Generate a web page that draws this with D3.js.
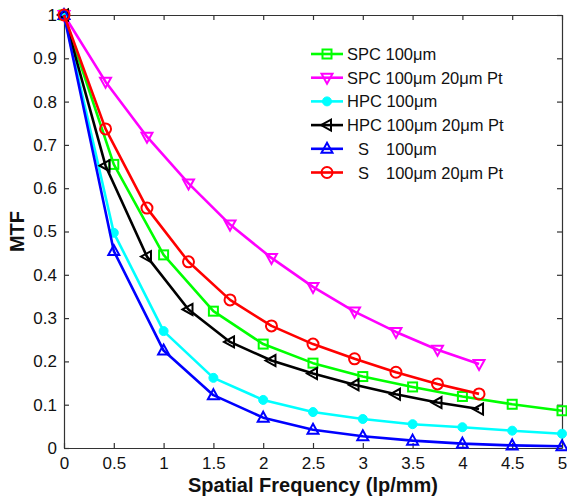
<!DOCTYPE html>
<html>
<head>
<meta charset="utf-8">
<script src="https://cdn.jsdelivr.net/npm/d3@7"></script>
<style>
  body { margin: 0; background: #fff; }
  text { font-family: "Liberation Sans", Arial, sans-serif; }
</style>
</head>
<body>
<div id="chart"></div>
<script>
// x positions: two sampling grids
const xHalf = [0, 0.5, 1, 1.5, 2, 2.5, 3, 3.5, 4, 4.5, 5];
const xTwelfth = [0, 0.417, 0.833, 1.25, 1.667, 2.083, 2.5, 2.917, 3.333, 3.75, 4.167];

// MTF values
const spc = [1, 0.655, 0.446, 0.316, 0.24, 0.196, 0.165, 0.141, 0.119, 0.101, 0.086];
const spcPt = [1, 0.846, 0.719, 0.611, 0.516, 0.439, 0.372, 0.315, 0.268, 0.227, 0.194];
const hpc = [1, 0.497, 0.27, 0.162, 0.111, 0.083, 0.067, 0.055, 0.048, 0.04, 0.033];
const hpcPt = [1, 0.652, 0.442, 0.32, 0.245, 0.202, 0.172, 0.146, 0.124, 0.105, 0.09];
const sOnly = [1, 0.455, 0.225, 0.122, 0.07, 0.042, 0.027, 0.017, 0.01, 0.006, 0.004];
const sPt = [1, 0.737, 0.554, 0.43, 0.342, 0.282, 0.24, 0.206, 0.175, 0.148, 0.125];

const xTicks = [0, 0.5, 1, 1.5, 2, 2.5, 3, 3.5, 4, 4.5, 5];
const yTicks = [0, 0.1, 0.2, 0.3, 0.4, 0.5, 0.6, 0.7, 0.8, 0.9, 1];

const series = [
  { name: "SPC", rest: "100\u03bcm", x: xHalf, y: spc, color: "#00ff00", marker: "square" },
  { name: "SPC", rest: "100\u03bcm 20\u03bcm Pt", x: xTwelfth, y: spcPt, color: "#ff00ff", marker: "tridown" },
  { name: "HPC", rest: "100\u03bcm", x: xHalf, y: hpc, color: "#00ffff", marker: "dot" },
  { name: "HPC", rest: "100\u03bcm 20\u03bcm Pt", x: xTwelfth, y: hpcPt, color: "#000000", marker: "trileft" },
  { name: "S", rest: "100\u03bcm", x: xHalf, y: sOnly, color: "#0000ff", marker: "triup" },
  { name: "S", rest: "100\u03bcm 20\u03bcm Pt", x: xTwelfth, y: sPt, color: "#ff0000", marker: "circle" }
];

const W = 567, H = 498;
const margin = { top: 15, right: 5, bottom: 50, left: 64 };
const width = 562 - margin.left, height = 448 - margin.top;

const svg = d3.select("#chart").append("svg")
  .attr("width", W).attr("height", H);
const g = svg.append("g")
  .attr("transform", "translate(" + margin.left + "," + margin.top + ")");

const x = d3.scaleLinear().domain([0, 5]).range([0, width]);
const y = d3.scaleLinear().domain([0, 1]).range([height, 0]);

// axes, matlab style: ticks inside, box on
function styleAxis(sel) {
  sel.select(".domain").attr("stroke", "#333").attr("stroke-width", 1.2);
  sel.selectAll(".tick line").attr("stroke", "#333").attr("stroke-width", 1.2);
  sel.selectAll(".tick text").attr("fill", "#111").style("font-size", "17px")
    .attr("font-family", "Liberation Sans, Arial, sans-serif");
}

g.append("g")
  .attr("transform", "translate(0," + height + ")")
  .call(d3.axisBottom(x).tickValues(xTicks).tickSizeInner(-5).tickSizeOuter(0).tickPadding(9).tickFormat(d3.format("")))
  .call(styleAxis);
g.append("g")
  .call(d3.axisTop(x).tickValues(xTicks).tickSizeInner(-5).tickSizeOuter(0).tickFormat(""))
  .call(styleAxis);
g.append("g")
  .call(d3.axisLeft(y).tickValues(yTicks).tickSizeInner(-5).tickSizeOuter(0).tickPadding(7).tickFormat(d3.format("")))
  .call(styleAxis);
g.append("g")
  .attr("transform", "translate(" + width + ",0)")
  .call(d3.axisRight(y).tickValues(yTicks).tickSizeInner(-5).tickSizeOuter(0).tickFormat(""))
  .call(styleAxis);

// marker drawing
function drawMarker(sel, type, color) {
  if (type === "square") {
    sel.append("rect").attr("x", -4.5).attr("y", -4.5).attr("width", 9).attr("height", 9)
      .attr("fill", "none").attr("stroke", color).attr("stroke-width", 2);
  } else if (type === "circle") {
    sel.append("circle").attr("r", 5.5)
      .attr("fill", "none").attr("stroke", color).attr("stroke-width", 2);
  } else if (type === "dot") {
    sel.append("circle").attr("r", 4.5)
      .attr("fill", color).attr("stroke", color).attr("stroke-width", 1);
  } else {
    const pts = {
      triup: "0,-6 5.5,4 -5.5,4",
      tridown: "0,6 5.5,-4 -5.5,-4",
      trileft: "-6,0 4,-5.5 4,5.5"
    }[type];
    sel.append("polygon").attr("points", pts)
      .attr("fill", "none").attr("stroke", color).attr("stroke-width", 2);
  }
}

const line = d3.line().x(d => x(d[0])).y(d => y(d[1]));

series.forEach(s => {
  const pts = s.x.map((v, i) => [v, s.y[i]]);
  g.append("path")
    .datum(pts)
    .attr("d", line)
    .attr("fill", "none")
    .attr("stroke", s.color)
    .attr("stroke-width", 2.6)
    .attr("stroke-linejoin", "round");
  g.selectAll(null)
    .data(pts)
    .join("g")
    .attr("transform", d => "translate(" + x(d[0]) + "," + y(d[1]) + ")")
    .each(function () { drawMarker(d3.select(this), s.marker, s.color); });
});

// legend
const legend = svg.append("g").attr("transform", "translate(311,54)");
series.forEach((s, i) => {
  const row = legend.append("g").attr("transform", "translate(0," + (i * 23.7) + ")");
  row.append("line").attr("x1", 0).attr("x2", 32).attr("y1", 0).attr("y2", 0)
    .attr("stroke", s.color).attr("stroke-width", 2.6);
  const m = row.append("g").attr("transform", "translate(16,0)");
  drawMarker(m, s.marker, s.color);
  if (s.name === "S") {
    row.append("text").attr("x", 47).attr("y", 6)
      .style("font-size", "16.5px").attr("fill", "#111").text(s.name);
    row.append("text").attr("x", 75).attr("y", 6)
      .style("font-size", "16.5px").attr("fill", "#111").text(s.rest);
  } else {
    row.append("text").attr("x", 36).attr("y", 6)
      .style("font-size", "16.5px").attr("fill", "#111").text(s.name + " " + s.rest);
  }
});

// axis titles
svg.append("text")
  .attr("x", margin.left + width / 2)
  .attr("y", 492)
  .attr("text-anchor", "middle")
  .style("font-size", "20px")
  .style("font-weight", "bold")
  .attr("fill", "#111")
  .text("Spatial Frequency (lp/mm)");

svg.append("text")
  .attr("transform", "translate(24," + (margin.top + height / 2) + ") rotate(-90)")
  .attr("text-anchor", "middle")
  .style("font-size", "20px")
  .style("font-weight", "bold")
  .attr("fill", "#111")
  .text("MTF");
</script>
</body>
</html>
